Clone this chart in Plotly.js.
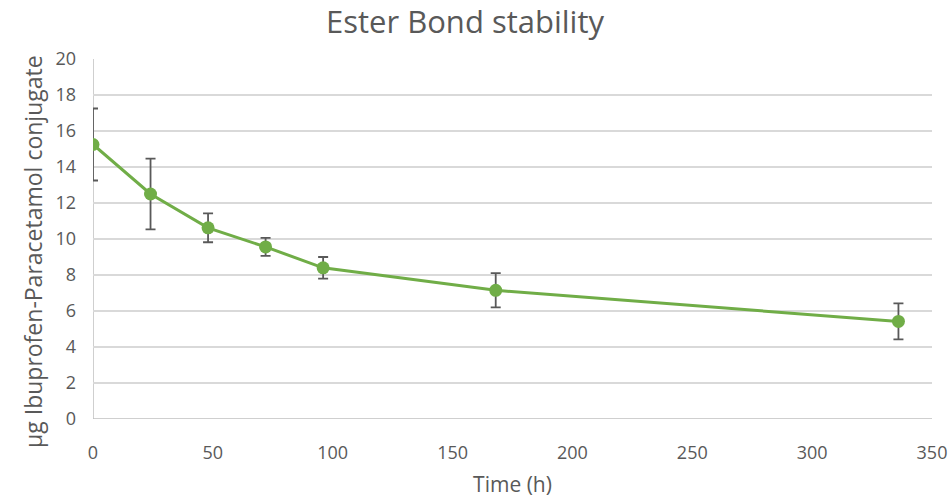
<!DOCTYPE html>
<html><head><meta charset="utf-8">
<script src="https://cdn.plot.ly/plotly-3.0.1.min.js"></script>
<style>body{margin:0;background:#fff}#c{width:949px;height:498px}</style>
</head><body><div id="c"></div>
<script>
const timeH = [0, 24, 48, 72, 96, 168, 336];
const conjugate = [15.25, 12.5, 10.62, 9.56, 8.4, 7.15, 5.42];
const errSD = [2.0, 1.97, 0.8, 0.5, 0.6, 0.95, 1.0];
const xTicks = [0, 50, 100, 150, 200, 250, 300, 350];
const yTicks = [0, 2, 4, 6, 8, 10, 12, 14, 16, 18, 20];

const font = "'Open Sans', sans-serif";
Plotly.newPlot('c', [{
  x: timeH, y: conjugate, type: 'scatter', mode: 'lines+markers',
  line: {color: '#70AD47', width: 3},
  marker: {color: '#70AD47', size: 13},
  error_y: {type: 'data', array: errSD, visible: true, color: '#595959', thickness: 1.8, width: 5}
}], {
  width: 949, height: 498,
  margin: {l: 93, r: 17, t: 59, b: 79},
  paper_bgcolor: '#fff', plot_bgcolor: '#fff',
  showlegend: false,
  title: {text: 'Ester Bond stability', x: 0.49, xanchor: 'center', y: 0.955, yanchor: 'middle',
          font: {family: font, size: 31, color: '#595959'}},
  xaxis: {range: [0, 350], tickvals: xTicks, ticktext: xTicks.map(String),
          showgrid: false, zeroline: false, showline: false, ticks: '',
          ticklabelstandoff: 21,
          tickfont: {family: font, size: 18, color: '#595959'},
          title: {text: 'Time (h)', font: {family: font, size: 21, color: '#595959'}, standoff: 15}},
  yaxis: {range: [0, 20], tickvals: yTicks, ticktext: yTicks.map(String),
          showgrid: true, gridcolor: '#d9d9d9', gridwidth: 1.5, zeroline: false,
          showline: false, ticks: '', ticklabelstandoff: 16,
          tickfont: {family: font, size: 18, color: '#595959'}},
  annotations: [{
    text: 'µg Ibuprofen-Paracetamol conjugate', textangle: -90, showarrow: false,
    xref: 'paper', yref: 'paper', x: -0.0715, y: 0.464, xanchor: 'center', yanchor: 'middle',
    font: {family: font, size: 23, color: '#595959'}
  }],
  shapes: [
    {type: 'line', xref: 'x', yref: 'paper', x0: 0, x1: 0, y0: 0, y1: 1, line: {color: '#bfbfbf', width: 1.5}, layer: 'below'},
    {type: 'line', xref: 'paper', yref: 'y', x0: 0, x1: 1, y0: 0, y1: 0, line: {color: '#bfbfbf', width: 1.5}, layer: 'below'}
  ]
}, {displayModeBar: false, staticPlot: true});
</script></body></html>
